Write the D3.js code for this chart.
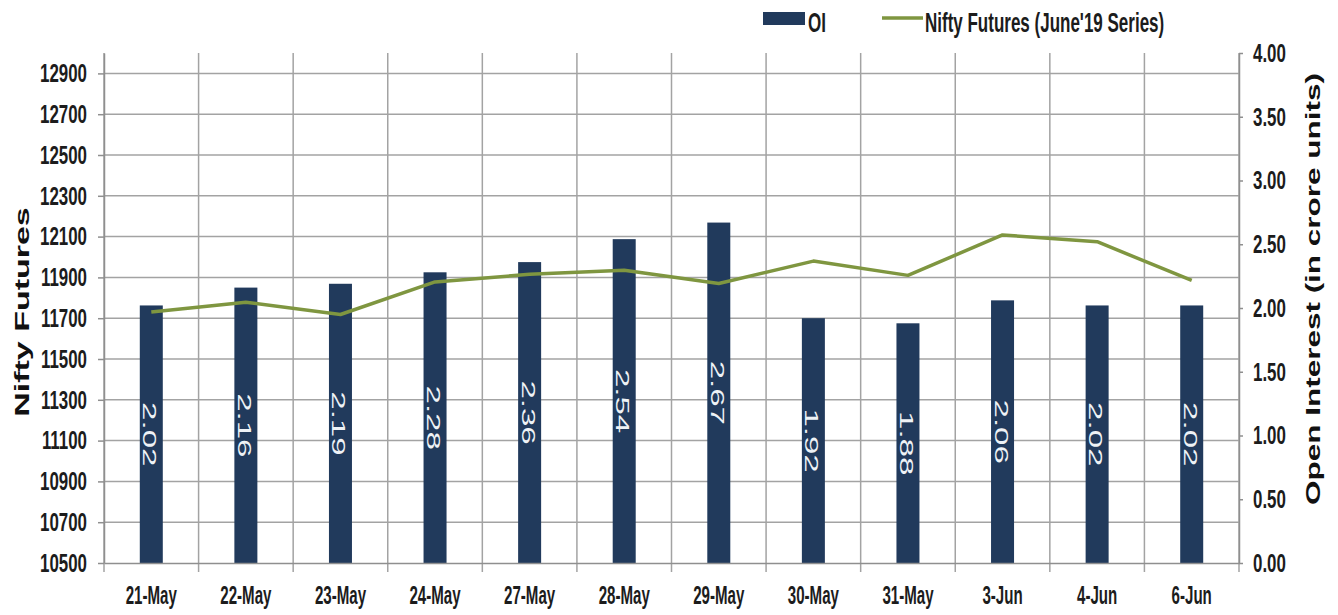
<!DOCTYPE html>
<html lang="en">

<head>
  <meta charset="UTF-8">
  <title>Nifty Futures vs Open Interest</title>
  <script src="https://d3js.org/d3.v7.min.js"></script>
  <style>
    body { margin: 0; background: #fff; }
    svg { display: block; font-family: "Liberation Sans", Arial, sans-serif; }
    .grid line { stroke: #a3a3a3; stroke-width: 1.5; }
    .axis path, .axis line { stroke: #8f8f8f; stroke-width: 1.5; }
    .axis text { fill: #1c1c1c; font-weight: bold; font-size: 26px; }
    .bar { fill: #213a5c; }
    .line { fill: none; stroke: #7f9640; stroke-width: 3.5; stroke-linejoin: round; }
    .barlabel { fill: #eef2f6; font-size: 33px; }
    .title { fill: #111; font-weight: bold; }
    .legend text { fill: #1c1c1c; font-weight: bold; font-size: 27px; }
  </style>
</head>

<body>
  <svg width="1338" height="615"></svg>

  <script>
    const dates = ['21-May', '22-May', '23-May', '24-May', '27-May', '28-May',
      '29-May', '30-May', '31-May', '3-Jun', '4-Jun', '6-Jun'];
    const oi = [2.02, 2.16, 2.19, 2.28, 2.36, 2.54, 2.67, 1.92, 1.88, 2.06, 2.02, 2.02];
    const nifty = [11730, 11778, 11718, 11878, 11915, 11935, 11870, 11980, 11910, 12108, 12075, 11885];
    const leftTicks = d3.range(10500, 13000, 200);
    const rightTicks = [0, 0.5, 1, 1.5, 2, 2.5, 3, 3.5, 4];

    const plotL = 104, plotR = 1239, plotT = 53, plotB = 563;

    const svg = d3.select('svg');

    const x = d3.scaleBand().domain(dates).range([plotL, plotR]);
    const yL = d3.scaleLinear().domain([10500, 13000]).range([plotB, plotT]);
    const yR = d3.scaleLinear().domain([0, 4]).range([plotB, plotT]);

    // squeeze text horizontally (the source picture is condensed)
    function squeeze(sel, sx) {
      sel.each(function () {
        const t = d3.select(this);
        const tx = +t.attr('x') || 0, ty = +t.attr('y') || 0;
        t.attr('transform', `translate(${tx},${ty}) scale(${sx},1)`).attr('x', 0).attr('y', 0);
      });
    }

    //grid lines
    const grid = svg.append('g').attr('class', 'grid');
    grid.selectAll('.h')
      .data(leftTicks.slice(1))
      .enter().append('line')
      .attr('x1', plotL).attr('x2', plotR)
      .attr('y1', d => yL(d)).attr('y2', d => yL(d));
    const bounds = dates.map(d => x(d)).concat([plotR]);
    grid.selectAll('.v')
      .data(bounds)
      .enter().append('line')
      .attr('x1', d => d).attr('x2', d => d)
      .attr('y1', plotT).attr('y2', plotB + 9);

    //bars
    const bw = 23;
    svg.selectAll('.bar')
      .data(dates)
      .enter().append('rect')
      .attr('class', 'bar')
      .attr('x', d => x(d) + x.bandwidth() / 2 - bw / 2)
      .attr('y', (d, i) => yR(oi[i]))
      .attr('width', bw)
      .attr('height', (d, i) => plotB - yR(oi[i]));

    //line
    const line = d3.line()
      .x((d, i) => x(dates[i]) + x.bandwidth() / 2)
      .y(d => yL(d));
    svg.append('path')
      .datum(nifty)
      .attr('class', 'line')
      .attr('d', line);

    //bar labels
    svg.selectAll('.barlabel')
      .data(dates)
      .enter().append('text')
      .attr('class', 'barlabel')
      .attr('text-anchor', 'middle')
      .attr('transform', (d, i) => {
        const cx = x(d) + x.bandwidth() / 2 - 8;
        const cy = (yR(oi[i]) + plotB) / 2;
        return `translate(${cx},${cy}) rotate(90) scale(1,0.56)`;
      })
      .text((d, i) => oi[i].toFixed(2));

    //left axis
    const ax = svg.append('g')
      .attr('class', 'axis')
      .attr('transform', `translate(${plotL},0)`)
      .call(d3.axisLeft(yL).tickValues(leftTicks).tickFormat(d3.format('d')).tickSize(6).tickPadding(11).tickSizeOuter(0));
    squeeze(ax.selectAll('text'), 0.65);

    //right axis
    const ar = svg.append('g')
      .attr('class', 'axis')
      .attr('transform', `translate(${plotR},0)`)
      .call(d3.axisRight(yR).tickValues(rightTicks).tickFormat(d3.format('.2f')).tickSize(4).tickPadding(10).tickSizeOuter(0));
    squeeze(ar.selectAll('text'), 0.65);

    //bottom axis
    const ab = svg.append('g')
      .attr('class', 'axis')
      .attr('transform', `translate(0,${plotB})`)
      .call(d3.axisBottom(x).tickSize(0).tickPadding(23).tickSizeOuter(0));
    squeeze(ab.selectAll('text'), 0.58);

    //axis titles
    svg.append('text')
      .attr('class', 'title')
      .attr('text-anchor', 'middle')
      .style('font-size', '34px')
      .attr('transform', 'translate(29,312) rotate(-90) scale(1,0.62)')
      .text('Nifty Futures');
    svg.append('text')
      .attr('class', 'title')
      .attr('text-anchor', 'middle')
      .style('font-size', '31.5px')
      .attr('transform', 'translate(1320,289) rotate(-90) scale(1,0.62)')
      .text('Open Interest (in crore units)');

    //legend
    const lg = svg.append('g').attr('class', 'legend');
    lg.append('rect')
      .attr('x', 763).attr('y', 12).attr('width', 42).attr('height', 13)
      .attr('class', 'bar');
    lg.append('text').attr('x', 808).attr('y', 32).text('OI');
    lg.append('line')
      .attr('x1', 882).attr('x2', 923).attr('y1', 18).attr('y2', 18)
      .attr('stroke', '#7f9640').attr('stroke-width', 3.5);
    lg.append('text').attr('x', 925).attr('y', 32).text("Nifty Futures (June'19 Series)");
    squeeze(lg.selectAll('text'), 0.63);
  </script>
</body>

</html>
